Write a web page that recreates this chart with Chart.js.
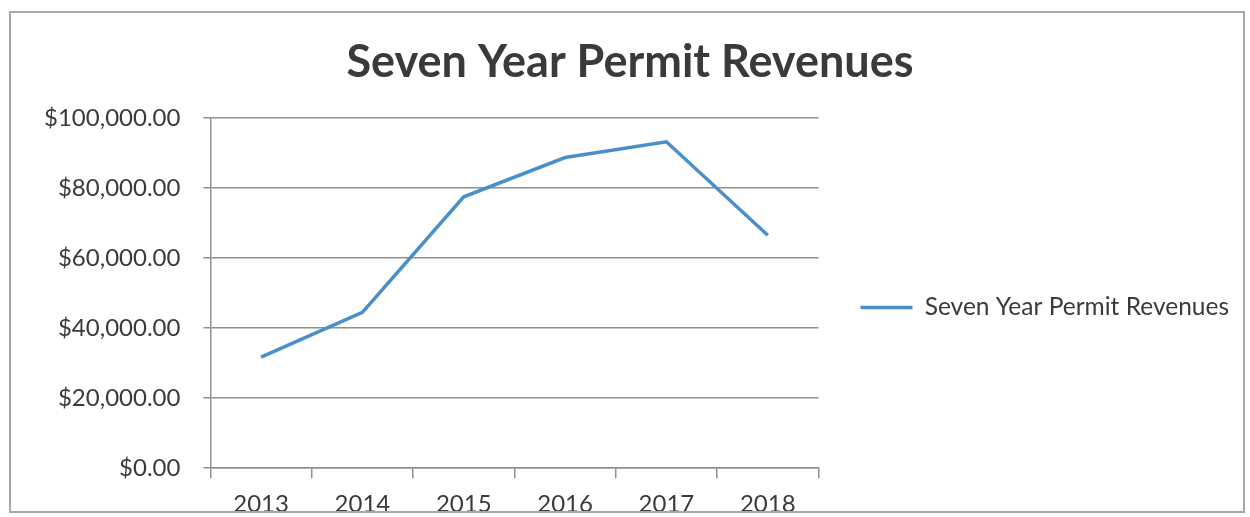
<!DOCTYPE html>
<html>
<head>
<meta charset="utf-8">
<title>Seven Year Permit Revenues</title>
<script src="https://cdn.jsdelivr.net/npm/chart.js@4.4.1/dist/chart.umd.min.js"></script>
<style>
    body { margin: 0; background: #fff; overflow: hidden; }
    #wrap { position: relative; width: 1250px; height: 517px; }
    #frame {
        position: absolute; left: 9px; top: 11px; width: 1236px; height: 502px;
        border: 2px solid #a8a8a8; box-sizing: border-box; pointer-events: none;
    }
    canvas { display: block; }
</style>
</head>
<body>
<div id="wrap">
    <canvas id="revenue-chart" width="1250" height="517"></canvas>
    <div id="frame"></div>
</div>
<script>
// Permit revenue per year
const years = ['2013', '2014', '2015', '2016', '2017', '2018'];
const revenues = [31700, 44500, 77500, 88700, 93200, 66500];
const seriesLabel = 'Seven Year Permit Revenues';

// Value axis range
const yMin = 0;
const yMax = 100000;
const yStep = 20000;

const lineColor = '#4a8fca';
const gridColor = '#8f8f8f';
const textColor = '#3a3a3a';
const fontFamily = 'Lato, "Open Sans", sans-serif';

const money = new Intl.NumberFormat('en-US', {
    minimumFractionDigits: 2,
    maximumFractionDigits: 2
});

const ctx = document.getElementById('revenue-chart');
new Chart(ctx, {
    type: 'line',
    data: {
        labels: years,
        datasets: [{
            label: seriesLabel,
            data: revenues,
            borderColor: lineColor,
            backgroundColor: lineColor,
            borderWidth: 3.5,
            pointRadius: 0,
            pointStyle: 'line',
            tension: 0
        }]
    },
    options: {
        responsive: false,
        animation: false,
        layout: {
            // bottom is negative because tick padding gets counted twice in the axis height
            padding: { left: 21, right: 11, top: 0, bottom: -14 }
        },
        plugins: {
            tooltip: { enabled: false },
            title: {
                display: true,
                text: seriesLabel,
                color: textColor,
                font: { family: fontFamily, size: 45, weight: 'bold' },
                padding: { top: 35, bottom: 29 }
            },
            legend: {
                position: 'right',
                maxWidth: 440, // default cap is a quarter of the width, too narrow here
                // empty title just nudges the entry down
                title: {
                    display: true,
                    text: '',
                    font: { size: 10 },
                    padding: { top: 36, bottom: 36 }
                },
                labels: {
                    color: textColor,
                    font: { family: fontFamily, size: 24.5 },
                    usePointStyle: true,
                    pointStyleWidth: 52,
                    padding: 42
                }
            }
        },
        scales: {
            x: {
                offset: true,
                grid: {
                    offset: true,
                    drawOnChartArea: false,
                    drawTicks: true,
                    tickLength: 10,
                    color: gridColor,
                    lineWidth: 1.5
                },
                border: { color: gridColor, width: 1.5 },
                ticks: {
                    color: textColor,
                    padding: 12,
                    maxRotation: 0,
                    font: { family: fontFamily, size: 24 }
                }
            },
            y: {
                min: yMin,
                max: yMax,
                grid: {
                    color: gridColor,
                    lineWidth: 1.5,
                    tickLength: 7
                },
                border: { color: gridColor, width: 1.5 },
                ticks: {
                    stepSize: yStep,
                    color: textColor,
                    padding: 23,
                    font: { family: fontFamily, size: 24 },
                    callback: (v) => '$' + money.format(v)
                }
            }
        }
    }
});
</script>
</body>
</html>
